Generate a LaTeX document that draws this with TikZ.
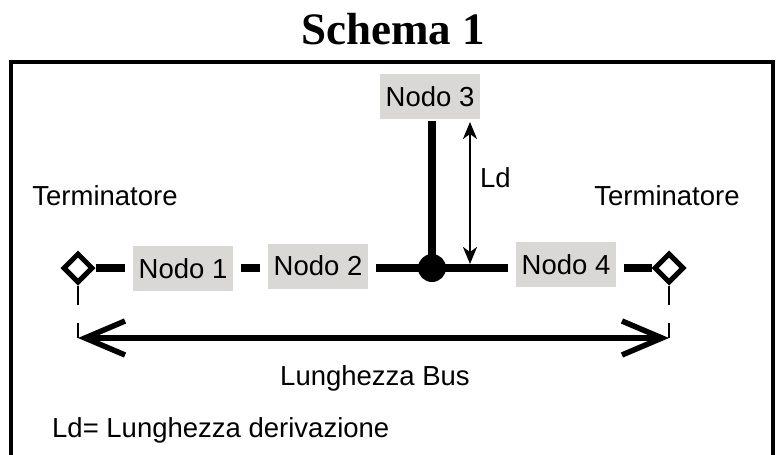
\documentclass[tikz,border=0pt]{standalone}
\usepackage{fontspec}
\setmainfont{Liberation Serif}
\setsansfont{Liberation Sans}
\usetikzlibrary{shapes.geometric,arrows.meta}
\definecolor{nodogray}{RGB}{217,216,212}

\begin{document}
\begin{tikzpicture}[x=1pt,y=-1pt,
  nodo/.style={fill=nodogray,minimum width=100pt,minimum height=45pt,inner sep=0pt,
    outer xsep=8pt,outer ysep=2pt,font=\sffamily\fontsize{27.5}{32}\selectfont},
  term/.style={diamond,draw,line width=5pt,minimum size=30pt,inner sep=0pt},
  etich/.style={inner sep=0pt,font=\sffamily\fontsize{27.5}{32}\selectfont},
  bus/.style={line width=7.5pt}]
\useasboundingbox (0,0) rectangle (779,455);
\draw[line width=4pt] (11,470) -- (11,62) -- (773,62) -- (773,470);
\node[font=\bfseries\fontsize{45}{50}\selectfont] (titolo) at (393,29) {Schema 1};

\node[term] (t1) at (78,268) {};
\node[term] (t2) at (669,268) {};
\node[nodo] (n1) at (183,268.5) {Nodo 1};
\node[nodo] (n2) at (318,266) {Nodo 2};
\node[nodo] (n3) at (430,96.5) {Nodo 3};
\node[nodo] (n4) at (566,264.5) {Nodo 4};
\node[circle,fill,minimum size=28pt,inner sep=0pt] (jn) at (432,268) {};

\draw[bus] (t1.east) -- (n1.west |- t1.east);
\draw[bus] (n1.east |- t1.east) -- (n2.west |- t1.east);
\draw[bus] (n2.east |- jn) -- (jn.center) -- (n4.west |- jn);
\draw[bus] (n4.east |- t2.west) -- (t2.west);
\draw[line width=8pt] (jn.center) -- (jn |- n3.south);

\coordinate (ldA) at (470,122);
\coordinate (ldB) at (470,264);
\draw[line width=2.5pt,{Stealth[length=17pt,width=14pt,inset=5pt]}-{Stealth[length=17pt,width=14pt,inset=5pt]}] (ldA) -- (ldB);

\coordinate (e1) at (78,305);
\coordinate (e2) at (78,323);
\coordinate (e3) at (669,305);
\coordinate (e4) at (669,323);
\coordinate (bl) at (78,338);
\coordinate (br) at (669,338);
\draw[line width=1.5pt] (t1.south) -- (e1) (e2) -- (bl);
\draw[line width=1.5pt] (t2.south) -- (e3) (e4) -- (br);
\draw[line width=5.5pt,{Straight Barb[length=40pt,width=34pt]}-{Straight Barb[length=40pt,width=34pt]}] (bl) -- (br);

\node[etich] (term1) at (105,196) {Terminatore};
\node[etich] (term2) at (667,196) {Terminatore};
\node[etich,anchor=west] (ld) at (480,178) {Ld};
\node[etich] (lbus) at (375,378) {Lunghezza Bus};
\node[etich,anchor=west] (legenda) at (52,430) {Ld= Lunghezza derivazione};
\end{tikzpicture}
\end{document}
